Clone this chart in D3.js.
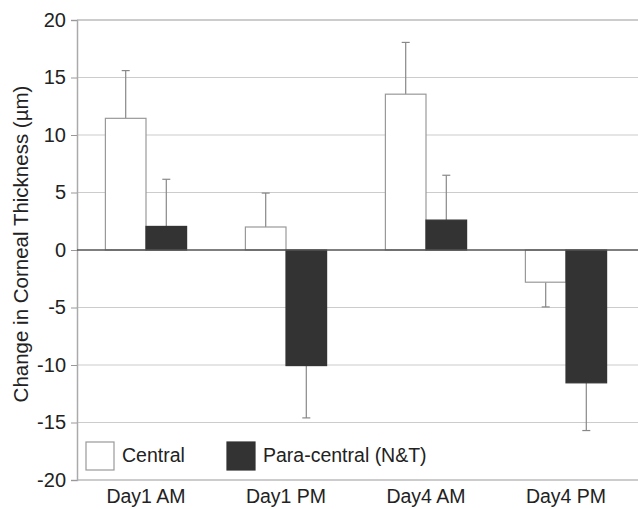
<!DOCTYPE html>
<head>
  <meta charset="utf-8">
  <style>
    body { margin: 0; background: #fff; font-family: 'Liberation Sans', Arial, sans-serif; }
    text { fill: #222; }
  </style>
  <script src="https://cdn.jsdelivr.net/npm/d3@7"></script>
</head>
<body>
<div id="chart"></div>
<script>
const periods = ['Day1 AM', 'Day1 PM', 'Day4 AM', 'Day4 PM']
const series = ['Central', 'Para-central (N&T)']
const central = [11.45, 2.0, 13.55, -2.8]
const central_err = [4.15, 2.95, 4.5, 2.15]
const para = [2.05, -10.05, 2.6, -11.55]
const para_err = [4.1, 4.55, 3.9, 4.15]
const y_ticks = [20, 15, 10, 5, 0, -5, -10, -15, -20]

const width = 638, height = 509
const margin = { top: 20, right: 2, bottom: 29, left: 77 }

const svg = d3.select('#chart').append('svg')
  .attr('width', width)
  .attr('height', height)

const y = d3.scaleLinear().domain([-20, 20]).range([height - margin.bottom, margin.top])
const x0 = d3.scaleBand().domain(periods).range([76, 636]).paddingInner(0.42).paddingOuter(0.21)
const x1 = d3.scaleBand().domain(series).range([0, x0.bandwidth()])
const fills = { 'Central': '#fff', 'Para-central (N&T)': '#333' }
const strokes = { 'Central': '#999', 'Para-central (N&T)': '#333' }

// gridlines
svg.append('g').selectAll('line').data(y_ticks.filter(d => d !== 0)).join('line')
  .attr('x1', margin.left).attr('x2', width)
  .attr('y1', d => y(d)).attr('y2', d => y(d))
  .attr('stroke', d => Math.abs(d) === 20 ? '#999' : '#ccc')
  .attr('stroke-width', 1.2)

// y axis
const yAxis = svg.append('g')
  .attr('transform', `translate(${margin.left},0)`)
  .call(d3.axisLeft(y).tickValues(y_ticks).tickFormat(d => String(d)).tickSize(6).tickPadding(5))
yAxis.select('.domain').attr('stroke', '#aaa').attr('stroke-width', 1.5)
yAxis.selectAll('.tick line').attr('stroke', '#999')
yAxis.selectAll('.tick text').attr('font-size', 20).attr('font-family', 'Liberation Sans, Arial, sans-serif').attr('fill', '#222')

svg.append('text')
  .attr('transform', `translate(28,${(y(20) + y(-20)) / 2 - 6}) rotate(-90)`)
  .attr('text-anchor', 'middle')
  .attr('font-size', 20.5)
  .text('Change in Corneal Thickness (µm)')

// bars
const rows = periods.map((p, i) => [
  { period: p, key: 'Central', value: central[i], err: central_err[i] },
  { period: p, key: 'Para-central (N&T)', value: para[i], err: para_err[i] },
]).flat()

const bx = d => x0(d.period) + x1(d.key)

// error bars
const eg = svg.append('g').attr('stroke', '#888').attr('stroke-width', 1.2)
eg.selectAll('line.v').data(rows).join('line').attr('class', 'v')
  .attr('x1', d => bx(d) + x1.bandwidth() / 2).attr('x2', d => bx(d) + x1.bandwidth() / 2)
  .attr('y1', d => y(d.value))
  .attr('y2', d => y(d.value + Math.sign(d.value) * d.err))
eg.selectAll('line.c').data(rows).join('line').attr('class', 'c')
  .attr('x1', d => bx(d) + x1.bandwidth() / 2 - 4).attr('x2', d => bx(d) + x1.bandwidth() / 2 + 4)
  .attr('y1', d => y(d.value + Math.sign(d.value) * d.err))
  .attr('y2', d => y(d.value + Math.sign(d.value) * d.err))

svg.append('g').selectAll('rect').data(rows).join('rect')
  .attr('x', bx)
  .attr('width', x1.bandwidth())
  .attr('y', d => y(Math.max(0, d.value)))
  .attr('height', d => Math.abs(y(d.value) - y(0)))
  .attr('fill', d => fills[d.key])
  .attr('stroke', d => strokes[d.key])
  .attr('stroke-width', 1.2)

// zero line
svg.append('line')
  .attr('x1', margin.left).attr('x2', width)
  .attr('y1', y(0)).attr('y2', y(0))
  .attr('stroke', '#555').attr('stroke-width', 1.5)

// x labels
svg.append('g').selectAll('text').data(periods).join('text')
  .attr('x', d => x0(d) + x0.bandwidth() / 2)
  .attr('y', 503)
  .attr('text-anchor', 'middle')
  .attr('font-size', 19.5)
  .text(d => d)

// legend
const legend_x = [86, 227]
const lg = svg.append('g').selectAll('g').data(series).join('g')
  .attr('transform', (d, i) => `translate(${legend_x[i]},442)`)
lg.append('rect')
  .attr('width', 28).attr('height', 28)
  .attr('fill', d => fills[d]).attr('stroke', d => strokes[d]).attr('stroke-width', 1.2)
lg.append('text')
  .attr('x', 36).attr('y', 20)
  .attr('font-size', 19.5)
  .text(d => d)
</script>
</body>
